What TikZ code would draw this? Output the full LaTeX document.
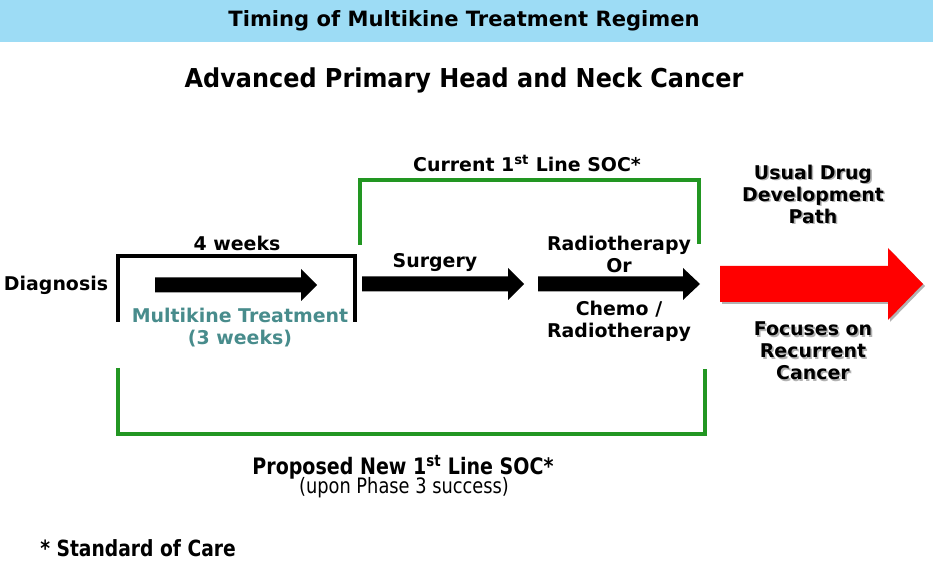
\documentclass[tikz,border=0pt]{standalone}
\usepackage{fontspec}
\setmainfont{DejaVu Sans}
\newfontfamily\narrowfont[FakeStretch=0.84]{DejaVu Sans}
\newfontfamily\halfnarrowfont[FakeStretch=0.92]{DejaVu Sans}
\usetikzlibrary{positioning}

\definecolor{bandblue}{RGB}{157,220,245}
\definecolor{socgreen}{RGB}{34,150,34}
\definecolor{mktteal}{RGB}{72,140,140}

\tikzset{
  lbl/.style={font=\fontsize{14.2}{16.5}\selectfont\bfseries, align=center, inner sep=0pt},
  head/.style={font=\narrowfont\fontsize{#1}{#1}\selectfont\bfseries, inner sep=0pt},
  shade/.style={lbl, text=black!30, xshift=1.2pt, yshift=-1.2pt},
  bracket/.style={line width=2.4pt, socgreen},
}
% fat arrow: colour, x start, x tip, y, shaft half, head half, head length
\newcommand{\fatarrow}[7][black]{%
  \fill[#1] (#2,{#4-#5}) -- ({#3-#7},{#4-#5}) -- ({#3-#7},{#4-#6}) -- (#3,#4)
    -- ({#3-#7},{#4+#6}) -- ({#3-#7},{#4+#5}) -- (#2,{#4+#5}) -- cycle;}

\begin{document}
\begin{tikzpicture}[x=0.75pt,y=-0.75pt]
  \useasboundingbox (0,0) rectangle (933,563);
  \fill[bandblue] (0,0) rectangle (933,42);
  \node[font=\fontsize{15.8}{16}\selectfont\bfseries, inner sep=0pt] (title) at (464,21) {Timing of Multikine Treatment Regimen};
  \node[font=\halfnarrowfont\fontsize{19.5}{20}\selectfont\bfseries, inner sep=0pt] (cancer) at (464,80) {Advanced Primary Head and Neck Cancer};

  % current standard of care
  \draw[bracket] (360,245) -- (360,180) -- (699,180) -- (699,244);
  \node[lbl] (current) at (527,163) {Current 1\textsuperscript{st} Line SOC*};

  % multikine window
  \draw[line width=2.4pt] (118,322) -- (118,256) -- (355,256) -- (355,322);
  \node[lbl] (fourwk) at (237,243) {4 weeks};
  \node[lbl] (diag) at (56,285) {Diagnosis};
  \fatarrow{155}{317}{285}{7.5}{16}{16}
  \node[lbl, text=mktteal] (mkt) at (240,328) {Multikine Treatment\\(3 weeks)};

  \fatarrow{362}{524}{284}{7.5}{16}{16}
  \node[lbl] (surg) at (435,263) {Surgery};
  \fatarrow{538}{700}{284}{7.5}{16}{17}
  \node[lbl] (radio) at (619,254) {Radiotherapy\\Or};
  \node[lbl] (chemo) at (619,321) {Chemo /\\Radiotherapy};

  % usual path
  \fatarrow[black!30]{722}{925}{286}{18}{36}{35}
  \fatarrow[red]{720}{923}{284}{18}{36}{35}
  \node[shade] at (813,194) {Usual Drug\\Development\\Path};
  \node[lbl] (usual) at (813,194) {Usual Drug\\Development\\Path};
  \node[shade] at (813,351) {Focuses on\\Recurrent\\Cancer};
  \node[lbl] (focus) at (813,351) {Focuses on\\Recurrent\\Cancer};

  % proposed standard of care
  \draw[bracket] (118,368) -- (118,434) -- (705,434) -- (705,369);
  \node[head=17] (proposed) at (403,467) {Proposed New 1\textsuperscript{st} Line SOC*};
  \node[font=\narrowfont\fontsize{15.9}{16}\selectfont, inner sep=0pt] (phase) at (404,488) {(upon Phase 3 success)};
  \node[head=16.7, anchor=west] (soc) at (40,548) {* Standard of Care};
\end{tikzpicture}
\end{document}
